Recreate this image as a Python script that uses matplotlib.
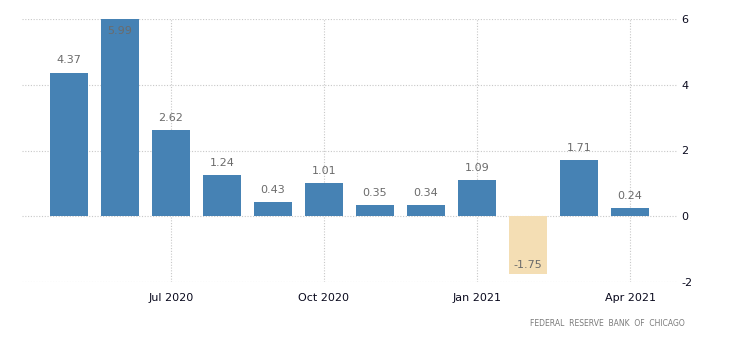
import numpy as np
import matplotlib
matplotlib.use("Agg")
from matplotlib import pyplot as plt

months = ["May 2020", "Jun 2020", "Jul 2020", "Aug 2020", "Sep 2020", "Oct 2020",
          "Nov 2020", "Dec 2020", "Jan 2021", "Feb 2021", "Mar 2021", "Apr 2021"]
values = [4.37, 5.99, 2.62, 1.24, 0.43, 1.01, 0.35, 0.34, 1.09, -1.75, 1.71, 0.24]
tick_months = ["Jul 2020", "Oct 2020", "Jan 2021", "Apr 2021"]
y_ticks = [-2, 0, 2, 4, 6]

blue = "#4682b4"
neg = "#f4deb4"
label_col = "#6b6b6b"

fig = plt.figure(figsize=(7.3, 3.4), dpi=100)
ax = fig.add_axes([22 / 730, 58 / 340, 655 / 730, 263 / 340])

x = np.arange(len(values))
colors = [blue if v >= 0 else neg for v in values]
ax.bar(x, values, width=0.745, color=colors, zorder=2)

ymax = 6
for xi, v in zip(x, values):
    if v < 0:
        ax.text(xi, v + 0.12, f"{v:.2f}", ha="center", va="bottom",
                color=label_col, fontsize=8, zorder=3)
    elif v + 0.6 > ymax:
        # no room above: label goes inside the bar
        ax.text(xi, v - 0.2, f"{v:.2f}", ha="center", va="top",
                color=label_col, fontsize=8, zorder=3)
    else:
        ax.text(xi, v + 0.22, f"{v:.2f}", ha="center", va="bottom",
                color=label_col, fontsize=8, zorder=3)

ax.set_xlim(-0.92, len(values) - 1 + 0.92)
ax.set_ylim(-2, 6)

ax.set_xticks([months.index(m) for m in tick_months])
ax.set_xticklabels(tick_months)
ax.set_yticks(y_ticks)
ax.set_yticklabels([str(t) for t in y_ticks])
ax.yaxis.tick_right()
ax.tick_params(axis="both", length=0, labelsize=8, colors="#0a0a1e")
ax.tick_params(axis="x", pad=8)
ax.tick_params(axis="y", pad=3)

ax.grid(True, color="#c8c8c8", linestyle=(0, (1, 1.5)), linewidth=0.8, zorder=0)
for s in ax.spines.values():
    s.set_visible(False)

fig.text(685 / 730, 1 - 324 / 340, "FEDERAL  RESERVE  BANK  OF  CHICAGO",
         ha="right", va="center", fontsize=5.5, color="#7a7a7a")

fig.savefig("out.png", dpi=100)
